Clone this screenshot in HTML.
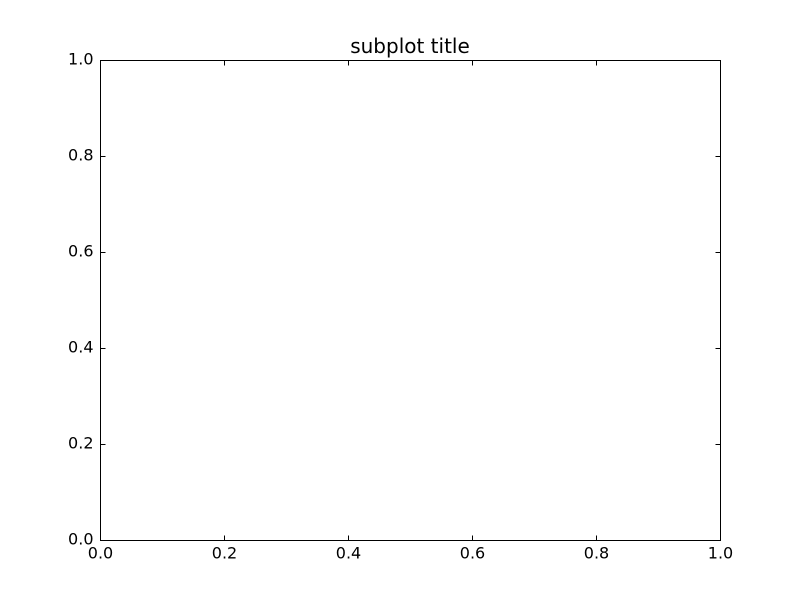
<!DOCTYPE html>
<html><head><meta charset="utf-8"><style>
html,body{margin:0;padding:0;background:#fff;}
svg{display:block;font-family:"DejaVu Sans","Liberation Sans",sans-serif;}
</style></head><body>
<svg id="chart" width="800" height="600">
<rect width="800" height="600" fill="#fff"/>
<text x="410" y="53" font-size="20" text-anchor="middle" fill="#000">subplot title</text>
<rect x="100.5" y="60.5" width="620" height="480" fill="none" stroke="#000" stroke-width="1"/>
<g id="ticks"></g>
</svg>
<script>
const xTicks = [0.0, 0.2, 0.4, 0.6, 0.8, 1.0];
const yTicks = [0.0, 0.2, 0.4, 0.6, 0.8, 1.0];
const xLabels = ["0.0","0.2","0.4","0.6","0.8","1.0"];
const yLabels = ["0.0","0.2","0.4","0.6","0.8","1.0"];
const xDomain = [0, 1];
const yDomain = [0, 1];

const L=100.5,R=720.5,T=60.5,B=540.5,TL=5;
const sx=v=>L+(v-xDomain[0])/(xDomain[1]-xDomain[0])*(R-L);
const sy=v=>B-(v-yDomain[0])/(yDomain[1]-yDomain[0])*(B-T);
const g=document.getElementById('ticks');
const NS='http://www.w3.org/2000/svg';
function line(x1,y1,x2,y2){const l=document.createElementNS(NS,'line');
l.setAttribute('x1',x1);l.setAttribute('y1',y1);l.setAttribute('x2',x2);l.setAttribute('y2',y2);
l.setAttribute('stroke','#000');l.setAttribute('stroke-width','1');g.appendChild(l);return l;}
xTicks.forEach((v,i)=>{const x=sx(v);
 const a=line(x,B,x,B-TL);
 
 
 const b=line(x,T,x,T+TL);
 
 
 const t=document.createElementNS(NS,'text');
 t.setAttribute('x',x);t.setAttribute('y',B+18);t.setAttribute('font-size','16');t.setAttribute('text-anchor','middle');
 t.textContent=xLabels[i];
 
 
 g.appendChild(t);});
yTicks.forEach((v,i)=>{const y=sy(v);
 const a=line(L,y,L+TL,y);
 
 
 const b=line(R,y,R-TL,y);
 
 
 const t=document.createElementNS(NS,'text');
 t.setAttribute('x',L-7);t.setAttribute('y',y+4);t.setAttribute('font-size','16');t.setAttribute('text-anchor','end');
 t.textContent=yLabels[i];
 
 
 g.appendChild(t);});
</script>
</body></html>
